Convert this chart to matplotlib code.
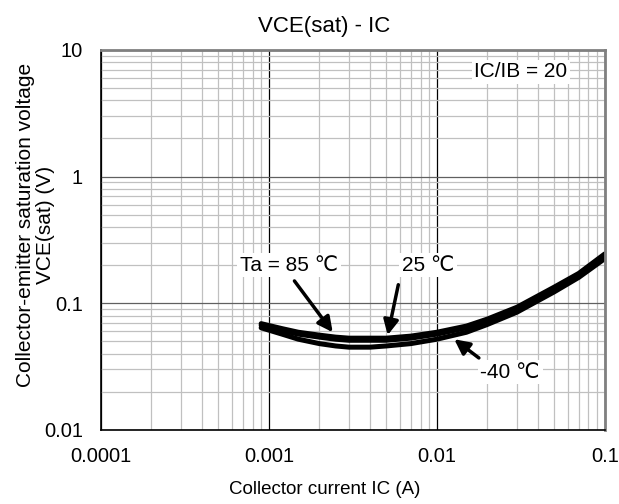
import numpy as np
import matplotlib
matplotlib.use('Agg')
import matplotlib.pyplot as plt
from matplotlib.ticker import LogLocator, NullFormatter

plt.rcParams['font.family'] = ['Liberation Sans', 'DejaVu Sans']

# data
ic = [0.0009, 0.0012, 0.0015, 0.002, 0.0025, 0.003, 0.004, 0.005, 0.007,
      0.01, 0.015, 0.02, 0.03, 0.05, 0.07, 0.1]
v85 = [0.069, 0.063, 0.059, 0.056, 0.054, 0.053, 0.053, 0.053, 0.055,
       0.059, 0.066, 0.075, 0.093, 0.134, 0.172, 0.245]
v25 = [0.067, 0.061, 0.057, 0.054, 0.052, 0.051, 0.051, 0.051, 0.053,
       0.057, 0.064, 0.073, 0.091, 0.131, 0.169, 0.24]
v40 = [0.064, 0.057, 0.052, 0.048, 0.046, 0.045, 0.045, 0.046, 0.048,
       0.052, 0.059, 0.068, 0.085, 0.123, 0.160, 0.225]

xticks = [0.0001, 0.001, 0.01, 0.1]
xticklabels = ['0.0001', '0.001', '0.01', '0.1']
yticks = [0.01, 0.1, 1, 10]
yticklabels = ['0.01', '0.1', '1', '10']

fig = plt.figure(figsize=(6.19, 5.04), dpi=100)
ax = fig.add_axes([0.163, 0.147, 0.814, 0.754])

ax.set_xscale('log')
ax.set_yscale('log')
ax.set_xlim(0.0001, 0.1)
ax.set_ylim(0.01, 10)

# grid
ax.xaxis.set_minor_locator(LogLocator(base=10, subs=np.arange(2, 10)))
ax.yaxis.set_minor_locator(LogLocator(base=10, subs=np.arange(2, 10)))
ax.xaxis.set_minor_formatter(NullFormatter())
ax.yaxis.set_minor_formatter(NullFormatter())
ax.grid(which='minor', color='#c0c0c0', lw=0.9)
ax.grid(which='major', axis='x', color='#000000', lw=0.9)
ax.grid(which='major', axis='y', color='#606060', lw=0.9)
ax.set_axisbelow(True)

ax.set_xticks(xticks)
ax.set_xticklabels(xticklabels)
ax.set_yticks(yticks)
ax.set_yticklabels(yticklabels)
ax.tick_params(which='both', length=0, labelsize=14.5)
ax.tick_params(axis='x', pad=12)
ax.tick_params(axis='y', pad=13)

for s in ['left', 'bottom']:
    ax.spines[s].set_color('black')
    ax.spines[s].set_linewidth(1.2)
for s in ['top', 'right']:
    ax.spines[s].set_color('#808080')
    ax.spines[s].set_linewidth(2)

for v in [v40, v25, v85]:
    ax.plot(ic, v, color='black', lw=3.6, solid_capstyle='round')

ax.set_title('VCE(sat) - IC', fontsize=16, pad=13, x=0.444)
ax.set_xlabel('Collector current IC (A)', fontsize=13.5)
ax.xaxis.set_label_coords(0.444, -0.135)
ax.set_ylabel('Collector-emitter saturation voltage\nVCE(sat) (V)', fontsize=15,
              linespacing=1.05, va='center')
ax.yaxis.set_label_coords(-0.13, 0.54)

box = dict(facecolor='white', edgecolor='none', pad=2)
arrow = dict(arrowstyle='-|>,head_length=0.9,head_width=0.45', color='black',
             lw=2.5, shrinkA=0, shrinkB=0)

ax.annotate('Ta = 85 \u2103', xy=(0.0024, 0.059), xytext=(0.00132, 0.2),
            fontsize=15, ha='center', va='center', bbox=box)
ax.annotate('', xy=(0.0024, 0.059), xytext=(0.00142, 0.15), arrowprops=arrow)

ax.annotate('25 \u2103', xy=(0.0051, 0.056), xytext=(0.0089, 0.2),
            fontsize=15, ha='center', va='center', bbox=box)
ax.annotate('', xy=(0.0051, 0.056), xytext=(0.0059, 0.14), arrowprops=arrow)

ax.annotate('-40 \u2103', xy=(0.0127, 0.052), xytext=(0.0273, 0.0286),
            fontsize=15, ha='center', va='center', bbox=box)
ax.annotate('', xy=(0.0127, 0.052), xytext=(0.0178, 0.037), arrowprops=arrow)

ax.text(0.06, 6.7, 'IC/IB = 20', fontsize=15, ha='right', va='center', bbox=box)

fig.savefig('out.png', dpi=100)
